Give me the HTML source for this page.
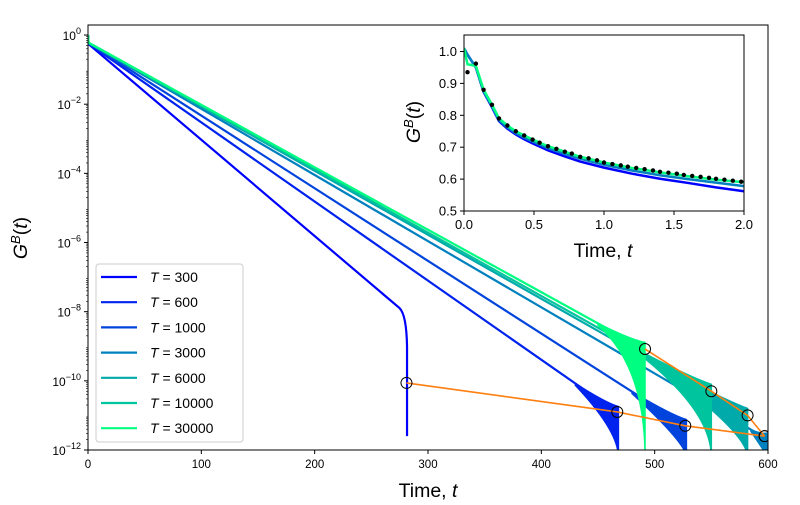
<!DOCTYPE html>
<html><head><meta charset="utf-8"><style>
body{margin:0;background:#fff}
svg{font-family:"Liberation Sans","DejaVu Sans",sans-serif}
</style></head><body>
<svg id="chart" width="800" height="500" viewBox="0 0 800 500">
<rect width="800" height="500" fill="#fff"/>
<defs>
<clipPath id="mainclip"><rect x="88" y="25" width="680" height="425"/></clipPath>
<clipPath id="insetclip"><rect x="464" y="35" width="280" height="176"/></clipPath>
</defs>
<g id="main" clip-path="url(#mainclip)"></g>
<g id="mainaxes"></g>
<g id="legend"></g>
<rect x="464" y="35" width="280" height="176" fill="#fff"/>
<g id="inset" clip-path="url(#insetclip)"></g>
<g id="insetaxes"></g>
</svg>
<script>
// ---- Main chart data ----
const temps = ["300","600","1000","3000","6000","10000","30000"];
const colors = ["#0000ff","#0022ee","#0044dd","#0080bf","#00aaaa","#00c49d","#00ff80"];
const startLog = [-0.26,-0.25,-0.24,-0.23,-0.23,-0.22,-0.22];
const endT = [275,466,527,600,582,550,491];
const endLog = [-7.9,-10.9,-11.3,-11.7,-11.0,-10.3,-9.08];
const bandStartT = [275,430,480,585,500,480,450];
const bandEndT = [281.5,468,528,600,582,550,491.5];
const circlesA_t = [281,467,527,597];
const circlesA_log = [-10.06,-10.9,-11.3,-11.6];
const circlesB_t = [491.5,550,582,597];
const circlesB_log = [-9.08,-10.3,-11.0,-11.6];
const xTicks = [0,100,200,300,400,500,600];
const yTickExp = [0,-2,-4,-6,-8,-10,-12];

// ---- Inset data ----
const insetT = [0,0.025,0.085,0.14,0.2,0.25,0.31,0.37,0.43,0.49,0.6,0.72,0.83,1.0,1.2,1.4,1.6,1.8,2.0];
const insetHigh = [1.01,0.96,0.955,0.88,0.833,0.79,0.768,0.75,0.737,0.724,0.703,0.686,0.67,0.652,0.635,0.621,0.609,0.598,0.59];
const insetMid = [1.01,0.99,0.95,0.875,0.828,0.785,0.762,0.744,0.73,0.718,0.697,0.679,0.664,0.645,0.627,0.612,0.6,0.589,0.578];
const insetLow = [1.01,0.99,0.95,0.873,0.825,0.782,0.758,0.74,0.725,0.712,0.69,0.671,0.655,0.636,0.617,0.601,0.588,0.574,0.562];
const dotT = [0.025,0.085,0.14,0.2,0.25,0.31,0.37,0.43,0.49,0.54,0.6,0.66,0.72,0.77,0.83,0.89,0.95,1.0,1.06,1.12,1.17,1.23,1.29,1.35,1.4,1.46,1.52,1.57,1.63,1.69,1.75,1.8,1.86,1.92,1.98];
const dotV = [0.935,0.962,0.88,0.833,0.79,0.768,0.75,0.737,0.724,0.714,0.703,0.695,0.686,0.68,0.67,0.665,0.659,0.652,0.647,0.643,0.639,0.635,0.631,0.627,0.623,0.62,0.617,0.613,0.61,0.607,0.604,0.601,0.598,0.595,0.592];
const insetXTicks = [0.0,0.5,1.0,1.5,2.0];
const insetYTicks = [0.5,0.6,0.7,0.8,0.9,1.0];

const NS="http://www.w3.org/2000/svg";
function mk(tag,attrs,parent){const e=document.createElementNS(NS,tag);for(const k in attrs)e.setAttribute(k,attrs[k]);parent.appendChild(e);return e;}
const X=t=>88+t/600*680;
const Y=l=>450-(l+12)*34.58;
const IX=t=>464+t/2*280;
const IY=v=>211-(v-0.5)*319;

const main=document.getElementById('main');
temps.forEach((T,i)=>{
  const lineAt=t=>startLog[i]+(endLog[i]-startLog[i])*t/endT[i];
  if(i===0){
    const p=mk('path',{d:`M${X(0)},${Y(0)} L${X(0.5)},${Y(startLog[i])} L${X(endT[i])},${Y(endLog[i])} Q${X(281)},${Y(endLog[i]-0.2)} ${X(281.5)},${Y(-9)} L${X(281.5)},${Y(-11.6)}`,fill:'none',stroke:colors[i],'stroke-width':2.2},main);
    
    
    return;
  }
  const b0=bandStartT[i], b1=bandEndT[i];
  const p=mk('path',{d:`M${X(0)},${Y(0)} L${X(0.5)},${Y(startLog[i])} L${X(endT[i])},${Y(lineAt(endT[i]))}`,fill:'none',stroke:colors[i],'stroke-width':2.2},main);
  
  
  const band=mk('path',{d:`M${X(b0)},${Y(lineAt(b0))} Q${X(b0+(b1-b0)*0.7)},${Y(lineAt(b0+(b1-b0)*0.7)+0.05)} ${X(b1)},${Y(lineAt(b1)+0.2)} L${X(b1)},${Y(-12.2)} Q${X(b1)},${Y(lineAt(b1)-0.5)} ${X(b0)},${Y(lineAt(b0)-0.05)} Z`,fill:colors[i],stroke:colors[i],'stroke-width':1.5},main);
  
  
});
function orange(ts,ls,name){
  let d='';ts.forEach((t,k)=>{d+=(k?'L':'M')+X(t)+','+Y(ls[k]);});
  const p=mk('path',{d,fill:'none',stroke:'#ff7f0e','stroke-width':1.6},main);
  
  
  ts.forEach((t,k)=>{
    const c=mk('circle',{cx:X(t),cy:Y(ls[k]),r:5.5,fill:'none',stroke:'#000','stroke-width':1},main);
    
    
  });
}
orange(circlesA_t,circlesA_log,'decay-endpoint-line-a');
orange(circlesB_t,circlesB_log,'decay-endpoint-line-b');

const ax=document.getElementById('mainaxes');
mk('rect',{x:88,y:25,width:680,height:425,fill:'none',stroke:'#000','stroke-width':1},ax);
xTicks.forEach(t=>{
  mk('line',{x1:X(t),x2:X(t),y1:450,y2:454,stroke:'#000'},ax);
  const tx=mk('text',{x:X(t),y:468,'font-size':11.5,'text-anchor':'middle'},ax);tx.textContent=t;
  
  
});
yTickExp.forEach(e=>{
  mk('line',{x1:84,x2:88,y1:Y(e),y2:Y(e),stroke:'#000'},ax);
  const tx=mk('text',{x:81,y:Y(e)+5,'font-size':12,'text-anchor':'end'},ax);
  tx.innerHTML='10<tspan dy="-6" font-size="9">'+(e<0?'\u2212'+(-e):e)+'</tspan>';
  
  
});
for(let e=-12;e<=0;e++){for(let m=2;m<10;m++){const yy=Y(e+Math.log10(m));if(yy>25)mk('line',{x1:86,x2:88,y1:yy,y2:yy,stroke:'#000','stroke-width':0.6},ax);}}
let t1=mk('text',{x:428,y:497,'font-size':19.5,'text-anchor':'middle'},ax);t1.innerHTML='Time, <tspan font-style="italic">t</tspan>';

let t2=mk('text',{x:0,y:0,'font-size':19.5,'text-anchor':'middle',transform:'translate(27,238) rotate(-90)'},ax);
t2.innerHTML='<tspan font-style="italic">G</tspan><tspan dy="-7" font-size="13" font-style="italic">B</tspan><tspan dy="7">(</tspan><tspan font-style="italic">t</tspan>)';


const lg=document.getElementById('legend');
mk('rect',{x:96,y:264,width:147,height:178,rx:3,fill:'#fff',stroke:'#ccc','fill-opacity':0.8},lg);
temps.forEach((T,i)=>{
  const y=277+i*25.2;
  mk('line',{x1:101,x2:137,y1:y,y2:y,stroke:colors[i],'stroke-width':2.2},lg);
  const tx=mk('text',{x:150,y:y+5,'font-size':14},lg);
  tx.innerHTML='<tspan font-style="italic">T</tspan> = '+T;
  
  
});

// inset
const ins=document.getElementById('inset');
function icurve(vals,col,name){
  let d='';insetT.forEach((t,k)=>{d+=(k?'L':'M')+IX(t)+','+IY(vals[k]);});
  const p=mk('path',{d,fill:'none',stroke:col,'stroke-width':2.5},ins);
  
}
icurve(insetLow,'#0000ff','inset-series-T300');
icurve(insetMid,'#0080bf','inset-series-T3000');
icurve(insetHigh,'#00ff80','inset-series-T30000');
dotT.forEach((t,k)=>{
  const c=mk('circle',{cx:IX(t),cy:IY(dotV[k]),r:2.2,fill:'#000'},ins);
  
});
const ia=document.getElementById('insetaxes');
mk('rect',{x:464,y:35,width:280,height:176,fill:'none',stroke:'#000'},ia);
insetXTicks.forEach(t=>{
  mk('line',{x1:IX(t),x2:IX(t),y1:211,y2:215,stroke:'#000'},ia);
  const tx=mk('text',{x:IX(t),y:229,'font-size':13,'text-anchor':'middle'},ia);tx.textContent=t.toFixed(1);
  
});
insetYTicks.forEach(v=>{
  mk('line',{x1:460,x2:464,y1:IY(v),y2:IY(v),stroke:'#000'},ia);
  const tx=mk('text',{x:457,y:IY(v)+4.5,'font-size':13,'text-anchor':'end'},ia);tx.textContent=v.toFixed(1);
  
});
let t3=mk('text',{x:603,y:257,'font-size':19.5,'text-anchor':'middle'},ia);t3.innerHTML='Time, <tspan font-style="italic">t</tspan>';

let t4=mk('text',{x:0,y:0,'font-size':19.5,'text-anchor':'middle',transform:'translate(420,122) rotate(-90)'},ia);
t4.innerHTML='<tspan font-style="italic">G</tspan><tspan dy="-7" font-size="13" font-style="italic">B</tspan><tspan dy="7">(</tspan><tspan font-style="italic">t</tspan>)';

</script>
</body></html>
